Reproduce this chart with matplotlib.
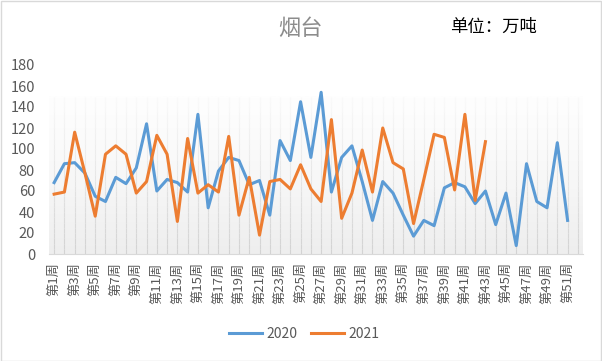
import matplotlib
matplotlib.use("Agg")
import matplotlib.pyplot as plt
import numpy as np
from matplotlib.patches import Rectangle
from matplotlib.collections import LineCollection

plt.rcParams['font.family'] = ['Noto Sans CJK SC', 'DejaVu Sans']

weeks = [f"第{i}周" for i in range(1, 53)]
v2020 = [68, 86, 87, 77, 55, 50, 73, 67, 82, 124, 60, 71, 68, 59, 133, 44, 79, 92, 89, 66,
         70, 37, 108, 89, 145, 92, 154, 59, 92, 103, 69, 32, 69, 58, 37, 17, 32, 27, 63, 68,
         64, 48, 60, 28, 58, 8, 86, 50, 44, 106, 32]
v2021 = [57, 59, 116, 77, 36, 95, 103, 95, 58, 69, 113, 95, 31, 110, 58, 66, 59, 112, 37, 73,
         18, 69, 71, 62, 85, 62, 50, 128, 34, 58, 99, 59, 120, 87, 81, 29, 71, 114, 111, 61,
         133, 51, 107]
series_names = ["2020", "2021"]
colors = ["#5b9bd5", "#ed7d31"]

fig = plt.figure(figsize=(6.02, 3.61), dpi=100)
fig.patch.set_facecolor("white")
fig.add_artist(Rectangle((0.001, 0.001), 0.997, 0.996, transform=fig.transFigure,
                         fill=False, edgecolor="#d9d9d9", linewidth=1))

ax = fig.add_axes([49/602, 1-254/361, (583-49)/602, (254-65)/361])
x = np.arange(1, len(weeks) + 1)

# gradient background (white at top -> light gray at bottom)
grad = np.linspace(0, 1, 256) ** 1.3
grad = grad.reshape(-1, 1)
cmap = matplotlib.colors.LinearSegmentedColormap.from_list("g", ["#fefefe", "#eeeeee"])
ax.imshow(grad, aspect="auto", cmap=cmap, extent=(0.5, len(weeks) + 0.5, 0, 150),
          zorder=0, origin="upper", vmin=0, vmax=1)
ax.set_ylim(0, 180)
ax.set_xlim(0.5, len(weeks) + 0.5)

# fading vertical gridlines
gcmap = matplotlib.colors.LinearSegmentedColormap.from_list("gl", ["#fafafa", "#d2d2d2"])
edges = np.linspace(0, 150, 31)
segs, cols = [], []
for xi in x:
    for k in range(len(edges) - 1):
        segs.append([(xi, edges[k]), (xi, edges[k + 1])])
        cols.append(gcmap(1 - (edges[k] + edges[k + 1]) / 2 / 150))
ax.add_collection(LineCollection(segs, colors=cols, linewidths=0.8, zorder=1))

ax.plot(x[:len(v2020)], v2020, color=colors[0], linewidth=2.2, label=series_names[0], zorder=3)
ax.plot(x[:len(v2021)], v2021, color=colors[1], linewidth=2.2, label=series_names[1], zorder=4)

for s in ["top", "right", "left"]:
    ax.spines[s].set_visible(False)
ax.spines["bottom"].set_color("#d9d9d9")
ax.set_yticks(np.arange(0, 181, 20))
ax.tick_params(axis="y", length=0, labelsize=10.5, colors="#595959", pad=10)
ax.set_xticks(x[::2])
ax.set_xticklabels(weeks[::2], rotation=90, fontsize=9.5, color="#595959")
ax.tick_params(axis="x", length=0, pad=6)

fig.text(300/602, 1-28/361, "烟台", fontsize=16, color="#8c8c8c", ha="center", va="center")
fig.text(450/602, 1-27/361, "单位：万吨", fontsize=12.5, color="#000000", ha="left", va="center")

fig.legend(loc="center", bbox_to_anchor=(304/602, 1-334/361), ncol=2, frameon=False,
           fontsize=10, labelcolor="#595959", handlelength=2.4, handletextpad=0.3,
           columnspacing=1.0)

fig.savefig("out.png", dpi=100)
